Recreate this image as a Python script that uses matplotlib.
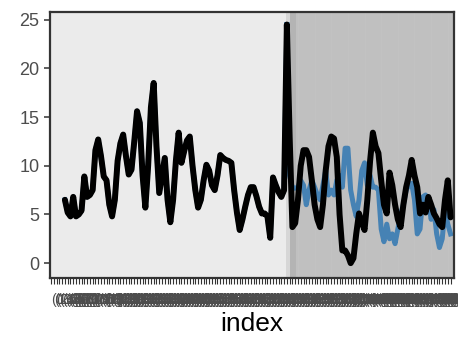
import matplotlib
matplotlib.use('Agg')
import matplotlib.pyplot as plt
import numpy as np

plt.rcParams['font.family'] = ['Liberation Sans', 'DejaVu Sans']

# observed series (black)
actual = [6.5, 5.2, 4.8, 6.8, 4.8, 5.0, 5.4, 8.9, 6.8, 7.0,
          7.5, 11.6, 12.7, 11.0, 8.9, 8.5, 6.0, 4.8, 6.5, 10.5,
          12.3, 13.2, 11.0, 9.1, 9.6, 12.5, 15.6, 14.4, 9.0, 5.7,
          10.0, 16.0, 18.5, 12.0, 7.2, 9.0, 10.8, 6.5, 4.2, 6.5,
          10.5, 13.4, 10.3, 11.5, 12.6, 13.0, 10.0, 7.5, 5.7, 6.5,
          8.5, 10.1, 9.5, 8.0, 7.5, 9.0, 11.1, 10.8, 10.6, 10.5,
          10.3, 7.5, 5.2, 3.4, 4.5, 5.8, 7.0, 7.8, 7.8, 6.9,
          5.8, 5.1, 5.1, 4.8, 2.6, 8.8, 8.0, 7.3, 6.8, 7.5,
          24.5, 13.0, 3.7, 4.1, 6.5, 10.0, 11.6, 11.6, 10.9, 8.5,
          6.0, 4.5, 3.7, 6.0, 9.5, 12.0, 13.0, 12.8, 10.9, 5.0,
          1.3, 1.3, 0.8, 0.0, 0.5, 3.0, 5.1, 4.2, 3.4, 6.5,
          10.5, 13.4, 12.0, 11.3, 8.5, 6.0, 5.1, 9.3, 8.0, 6.0,
          4.5, 3.7, 6.0, 7.8, 9.0, 10.6, 9.0, 7.8, 5.1, 6.0,
          5.2, 6.8, 6.0, 5.1, 4.6, 4.0, 3.7, 6.5, 8.5, 4.7]

# forecast series (blue), starting at the split
forecast_start = 80
forecast = [24.5, 9.0, 7.7, 7.7, 7.8, 8.5, 8.0, 6.0, 7.5, 8.5,
            7.8, 7.0, 6.5, 8.0, 9.5, 7.0, 7.5, 7.0, 8.5, 9.0,
            7.8, 11.8, 11.8, 7.5, 6.0, 4.8, 6.5, 9.5, 10.3, 8.0,
            9.0, 7.8, 7.8, 7.5, 3.5, 2.2, 4.0, 2.5, 3.0, 2.0,
            3.5, 5.0, 6.0, 7.5, 8.0, 8.2, 6.5, 3.0, 3.5, 6.8,
            7.0, 6.5, 4.5, 5.5, 3.0, 1.6, 2.5, 5.5, 4.0, 3.0]

yticks = [0, 5, 10, 15, 20, 25]

idx = np.arange(len(actual))
fc_idx = np.arange(forecast_start, forecast_start + len(forecast))

fig = plt.figure(figsize=(4.58, 3.4), dpi=100)
ax = fig.add_axes([0.109, 0.182, 0.882, 0.783])

xmin, xmax = -5.4, len(actual) + 0.2
ax.axvspan(xmin, forecast_start - 0.3, color='#EBEBEB', lw=0, zorder=0)
ax.axvspan(forecast_start - 0.3, forecast_start + 1.2, color='#D6D6D6', lw=0, zorder=0)
ax.axvspan(forecast_start + 1.2, forecast_start + 3.3, color='#B4B4B4', lw=0, zorder=0)
ax.axvspan(forecast_start + 3.3, xmax, color='#C0C0C0', lw=0, zorder=0)

# faint per-index stripes
for i in idx[::6]:
    ax.axvline(i, color='white', lw=1.0, alpha=0.04, zorder=1)

ax.plot(idx[:forecast_start + 1], actual[:forecast_start + 1], color='#4682B4',
        lw=3.6, zorder=2, solid_joinstyle='round')
ax.plot(fc_idx, forecast, color='#4682B4', lw=3.6, zorder=2,
        solid_joinstyle='round')
ax.plot(idx, actual, color='black', lw=4.3, zorder=3,
        solid_capstyle='round', solid_joinstyle='round')

ax.set_xlim(xmin, xmax)
ax.set_ylim(-1.54, 25.8)
ax.set_yticks(yticks)
ax.set_yticklabels([str(v) for v in yticks])

ticks = np.arange(-5, len(actual))
ax.set_xticks(ticks)
ax.set_xticklabels(['(%d,%d]' % (t + 5, t + 6) for t in ticks], fontsize=10,
                   color='#4D4D4D', ha='left')

ax.tick_params(axis='y', labelsize=13, labelcolor='#4D4D4D', color='#333333',
               length=4, width=1.1)
ax.tick_params(axis='x', color='#333333', length=4, width=0.8, pad=7)
for s in ax.spines.values():
    s.set_color('#333333')
    s.set_linewidth(1.6)

ax.set_xlabel('index', fontsize=19, color='black', labelpad=3)

fig.savefig('out.png', dpi=100, facecolor='white')
plt.close(fig)
